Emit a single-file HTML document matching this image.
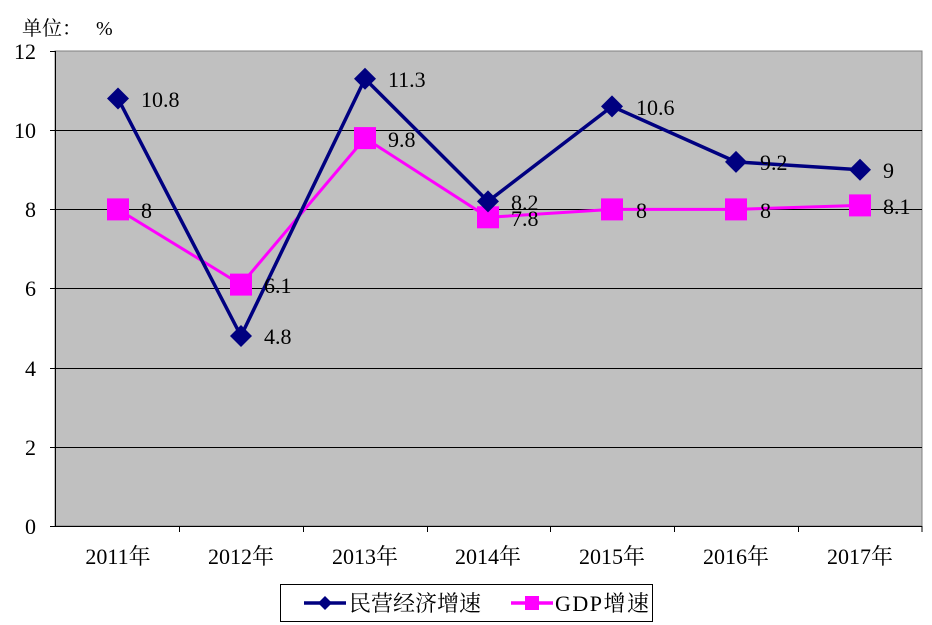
<!DOCTYPE html>
<html><head><meta charset="utf-8"><style>body{margin:0;background:#fff}svg{display:block}</style></head><body>
<svg width="932" height="625" xmlns="http://www.w3.org/2000/svg" font-family="'Liberation Serif','Noto Serif CJK SC',serif">
<rect x="55" y="51" width="867" height="475" fill="#c0c0c0" stroke="#808080" stroke-width="1"/>
<g stroke="#000" stroke-width="1">
<line x1="55" y1="130.5" x2="922" y2="130.5"/><line x1="55" y1="209.5" x2="922" y2="209.5"/>
<line x1="55" y1="288.5" x2="922" y2="288.5"/><line x1="55" y1="368.5" x2="922" y2="368.5"/>
<line x1="55" y1="447.5" x2="922" y2="447.5"/><line x1="55" y1="526.5" x2="922" y2="526.5"/>
<line x1="55.5" y1="51" x2="55.5" y2="526"/>
<line x1="50" y1="51.5" x2="55" y2="51.5"/><line x1="50" y1="130.5" x2="55" y2="130.5"/><line x1="50" y1="209.5" x2="55" y2="209.5"/><line x1="50" y1="288.5" x2="55" y2="288.5"/><line x1="50" y1="368.5" x2="55" y2="368.5"/><line x1="50" y1="447.5" x2="55" y2="447.5"/><line x1="50" y1="526.5" x2="55" y2="526.5"/>
<line x1="179.5" y1="526" x2="179.5" y2="532"/><line x1="303.5" y1="526" x2="303.5" y2="532"/><line x1="427.5" y1="526" x2="427.5" y2="532"/><line x1="550.5" y1="526" x2="550.5" y2="532"/><line x1="674.5" y1="526" x2="674.5" y2="532"/><line x1="798.5" y1="526" x2="798.5" y2="532"/><line x1="922" y1="526" x2="922" y2="532"/>
</g>
<g font-size="22" text-anchor="end" fill="#000">
<text x="36" y="59">12</text><text x="36" y="138">10</text><text x="36" y="217">8</text><text x="36" y="296">6</text><text x="36" y="376">4</text><text x="36" y="455">2</text><text x="36" y="534">0</text>
</g>
<text x="22" y="35" font-size="20">单位：</text><text x="96" y="35" font-size="20">%</text>
<g font-size="22" text-anchor="middle">
<text x="118" y="564">2011年</text><text x="241" y="564">2012年</text><text x="365" y="564">2013年</text><text x="488" y="564">2014年</text><text x="612" y="564">2015年</text><text x="736" y="564">2016年</text><text x="860" y="564">2017年</text>
</g>
<polyline fill="none" stroke="#ff00ff" stroke-width="3" points="118,209.4 241,284.6 365,138.1 488,217.3 612,209.4 736,209.4 860,205.4"/>
<polyline fill="none" stroke="#000080" stroke-width="3.5" points="118,98.5 241,336 365,78.8 488,201.4 612,106.4 736,161.9 860,169.8"/>
<g fill="#ff00ff">
<rect x="107" y="198.4" width="22" height="22"/><rect x="230" y="273.6" width="22" height="22"/><rect x="354" y="127.1" width="22" height="22"/><rect x="477" y="206.3" width="22" height="22"/><rect x="601" y="198.4" width="22" height="22"/><rect x="725" y="198.4" width="22" height="22"/><rect x="849" y="194.4" width="22" height="22"/>
</g>
<g fill="#000080">
<path d="M118,87.5l11,11l-11,11l-11,-11z"/><path d="M241,325l11,11l-11,11l-11,-11z"/><path d="M365,67.8l11,11l-11,11l-11,-11z"/><path d="M488,190.4l11,11l-11,11l-11,-11z"/><path d="M612,95.4l11,11l-11,11l-11,-11z"/><path d="M736,150.9l11,11l-11,11l-11,-11z"/><path d="M860,158.8l11,11l-11,11l-11,-11z"/>
</g>
<g font-size="22" fill="#000">
<text x="141" y="107">10.8</text><text x="264" y="344">4.8</text><text x="388" y="87">11.3</text><text x="511" y="210">8.2</text><text x="636" y="115">10.6</text><text x="760" y="170">9.2</text><text x="883" y="178">9</text>
<text x="141" y="218">8</text><text x="264" y="293">6.1</text><text x="388" y="147">9.8</text><text x="511" y="226">7.8</text><text x="636" y="218">8</text><text x="760" y="218">8</text><text x="883" y="214">8.1</text>
</g>
<rect x="280.5" y="584.5" width="372" height="37" fill="#fff" stroke="#000" stroke-width="1"/>
<line x1="304" y1="603" x2="346" y2="603" stroke="#000080" stroke-width="3.5"/>
<path d="M325,596l7,7l-7,7l-7,-7z" fill="#000080"/>
<text x="349" y="611" font-size="22">民营经济增速</text>
<line x1="511" y1="603" x2="553" y2="603" stroke="#ff00ff" stroke-width="3.5"/>
<rect x="525" y="596" width="14" height="14" fill="#ff00ff"/>
<text x="555" y="611" font-size="22" textLength="94">GDP增速</text>
</svg>
</body></html>
